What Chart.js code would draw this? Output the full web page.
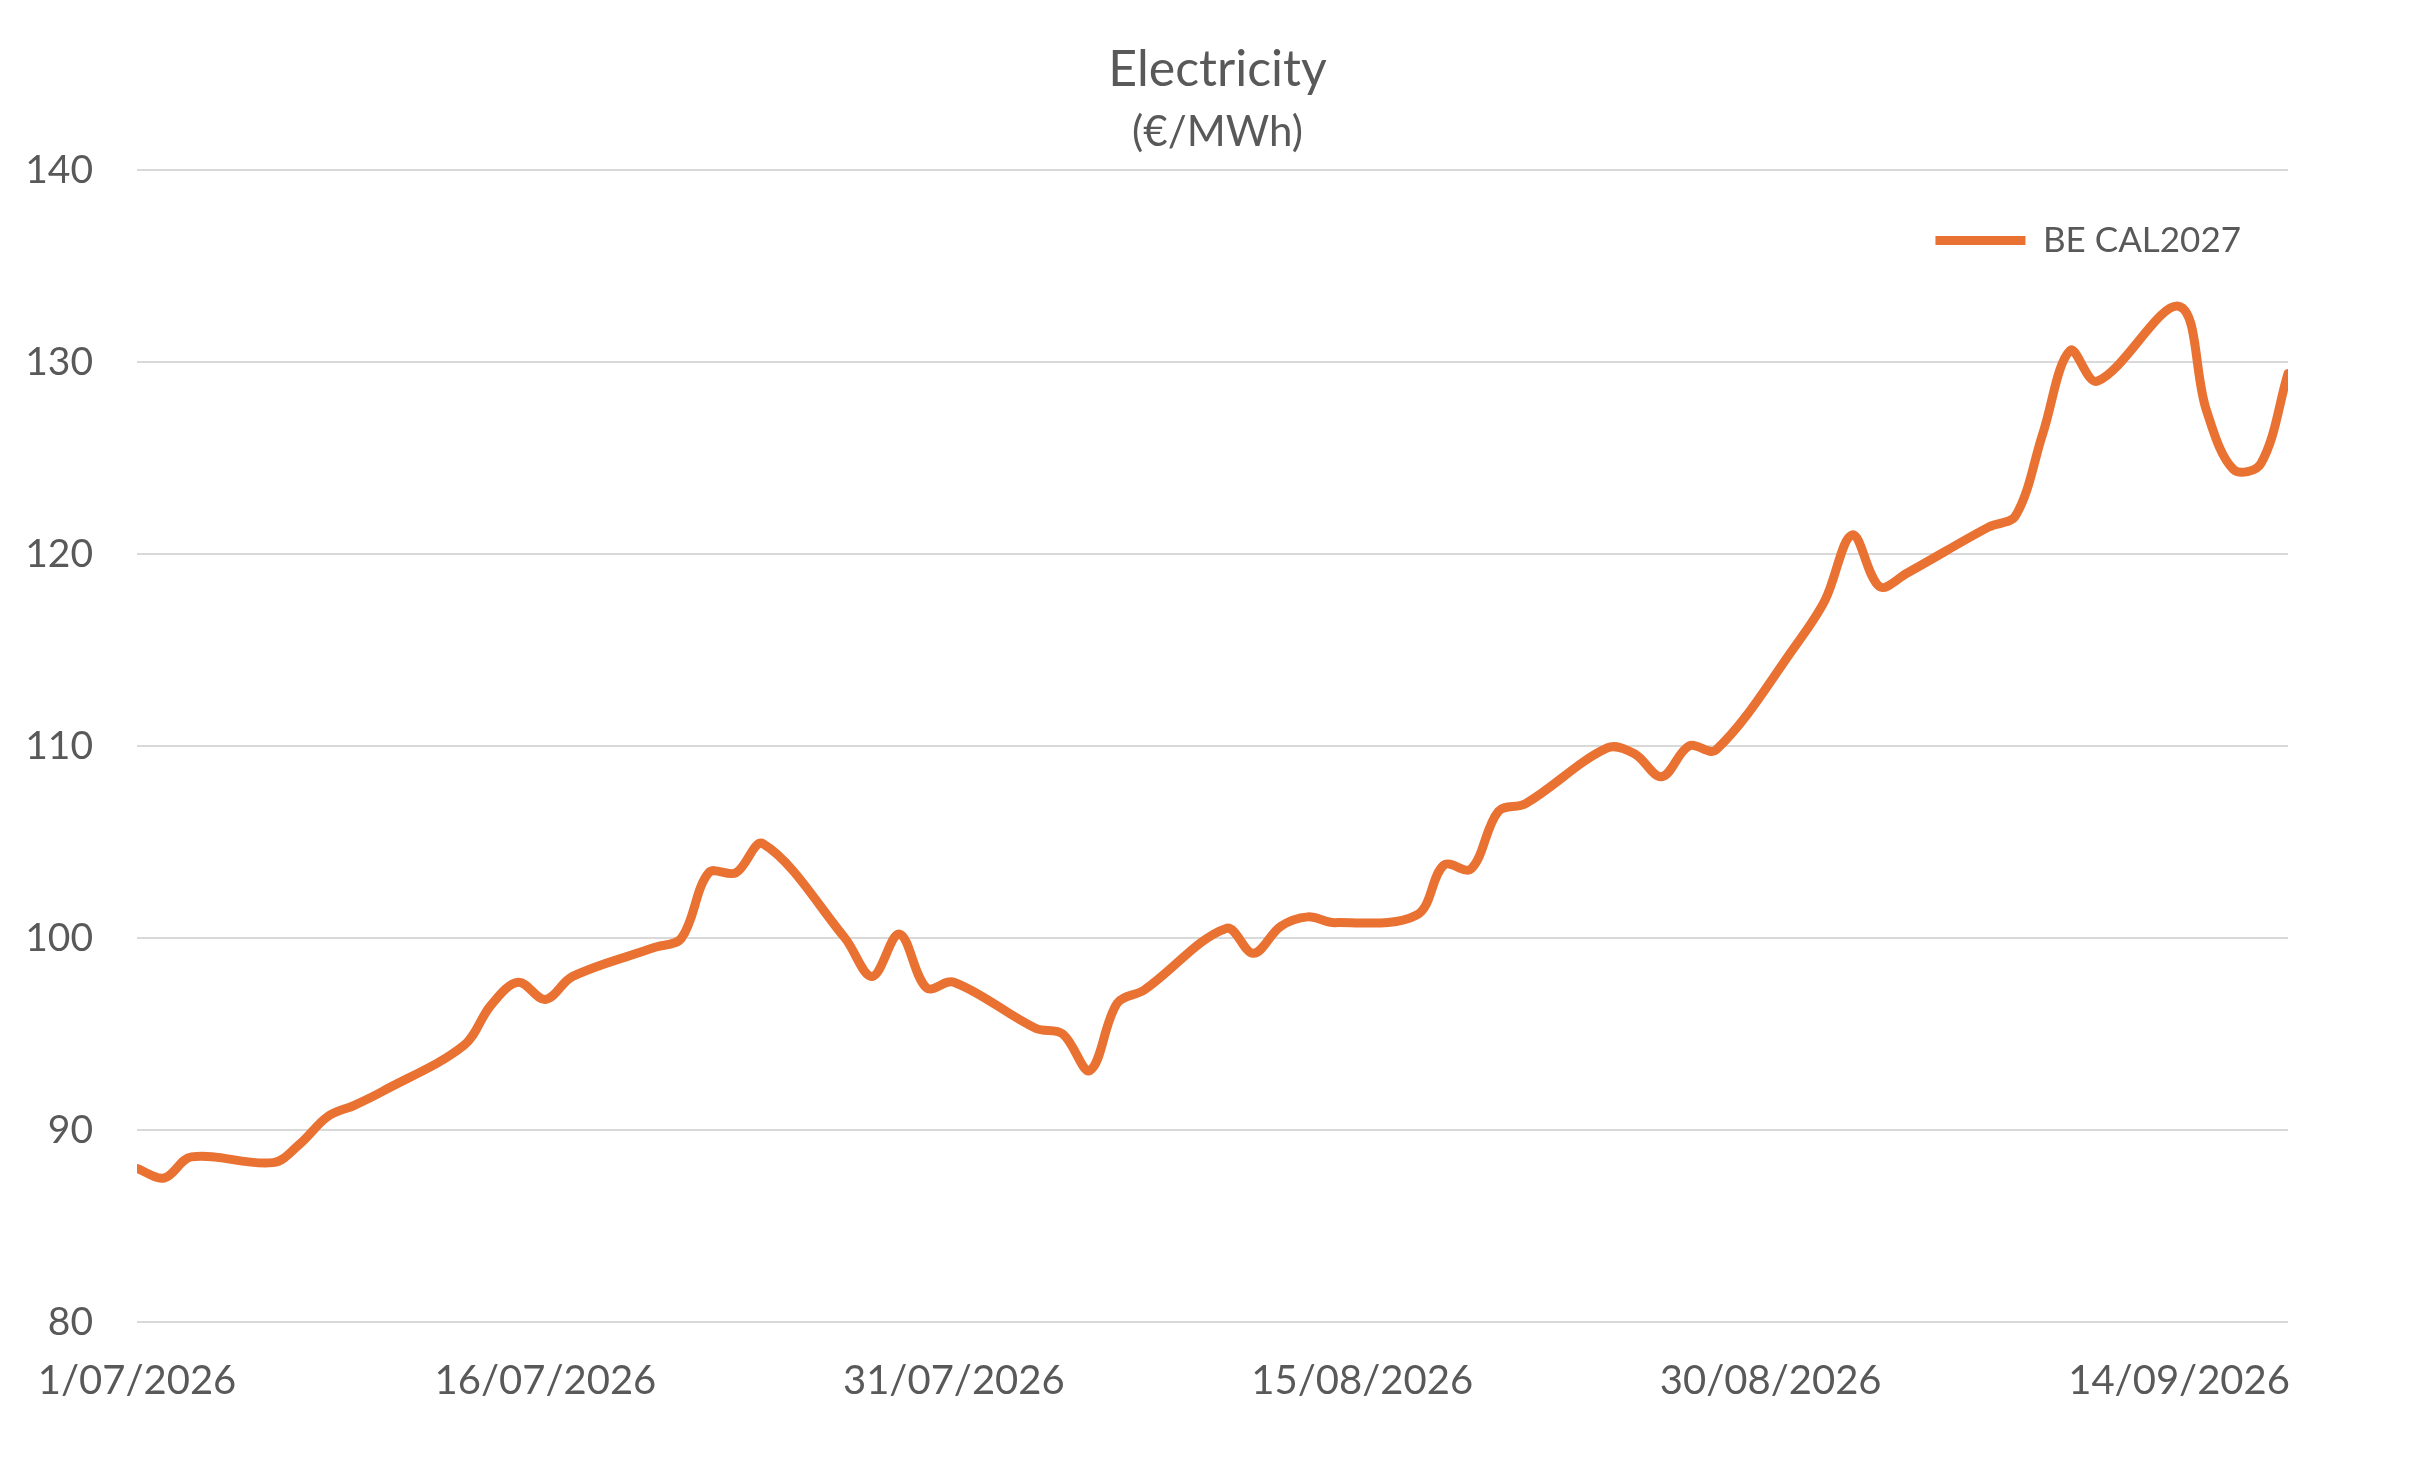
<!DOCTYPE html>
<html>
<head>
<meta charset="utf-8">
<script src="https://cdn.jsdelivr.net/npm/chart.js@4.4.1/dist/chart.umd.min.js"></script>
<style>
  html, body { margin: 0; padding: 0; background: #ffffff; }
  canvas { display: block; }
</style>
</head>
<body>
<canvas id="c" width="2435" height="1465" style="width:2435px;height:1465px"></canvas>
<script>
// ---- data ----
const chartTitle = 'Electricity';
const chartSubtitle = '(€/MWh)';
const seriesName = 'BE CAL2027';

const dates = [
  '2026-07-01','2026-07-02','2026-07-03',
  '2026-07-06','2026-07-07','2026-07-08','2026-07-09','2026-07-10',
  '2026-07-13','2026-07-14','2026-07-15','2026-07-16','2026-07-17',
  '2026-07-20','2026-07-21','2026-07-22','2026-07-23','2026-07-24',
  '2026-07-27','2026-07-28','2026-07-29','2026-07-30','2026-07-31',
  '2026-08-03','2026-08-04','2026-08-05','2026-08-06','2026-08-07',
  '2026-08-10','2026-08-11','2026-08-12','2026-08-13','2026-08-14',
  '2026-08-17','2026-08-18','2026-08-19','2026-08-20','2026-08-21',
  '2026-08-24','2026-08-25','2026-08-26','2026-08-27','2026-08-28',
  '2026-08-31','2026-09-01','2026-09-02','2026-09-03','2026-09-04',
  '2026-09-07','2026-09-08','2026-09-09','2026-09-10','2026-09-11',
  '2026-09-14','2026-09-15','2026-09-16','2026-09-17','2026-09-18'
];

const values = [
  88.0, 87.5, 88.6,
  88.3, 89.3, 90.7, 91.3, 92.0,
  94.4, 96.5, 97.7, 96.8, 98.0,
  99.5, 100.0, 103.4, 103.4, 104.9,
  100.0, 98.0, 100.2, 97.4, 97.7,
  95.3, 95.0, 93.1, 96.6, 97.3,
  100.5, 99.2, 100.6, 101.1, 100.8,
  101.2, 103.8, 103.6, 106.6, 107.0,
  109.9, 109.6, 108.4, 110.0, 109.8,
  115.4, 117.6, 121.0, 118.3, 119.0,
  121.4, 122.0, 126.3, 130.6, 129.0,
  132.9, 127.5, 124.4, 124.7, 129.4
];

const axisStart = '2026-07-01';
const axisEnd = '2026-09-18';
const tickDates = ['2026-07-01','2026-07-16','2026-07-31','2026-08-15','2026-08-30','2026-09-14'];
const tickLabels = ['1/07/2026','16/07/2026','31/07/2026','15/08/2026','30/08/2026','14/09/2026'];
const yMin = 80, yMax = 140, yStep = 10;

// ---- helpers ----
function dayIndex(s) {
  const [y, m, d] = s.split('-').map(Number);
  const [y0, m0, d0] = axisStart.split('-').map(Number);
  return Math.round((Date.UTC(y, m - 1, d) - Date.UTC(y0, m0 - 1, d0)) / 86400000);
}
const tickIdx = tickDates.map(dayIndex);
const labelFor = {};
tickIdx.forEach((v, i) => { labelFor[v] = tickLabels[i]; });

const TEXT = '#595959';
const ORANGE = '#E97132';
const FONT = 'Lato';

// Places the legend inside the plot area and centres the titles on the whole canvas
const layoutTweaks = {
  id: 'layoutTweaks',
  afterLayout(chart) {
    const lg = chart.legend;
    chart.boxes.forEach(b => {
      if (b !== lg && b.position === 'top' && b.options && b.options.text !== undefined) {
        b.left = 0;
        b.right = chart.width;
        b.width = chart.width;
      }
    });
    if (lg) {
      lg.top = chart.chartArea.top + 6;
      lg.height = 200;
      lg.bottom = lg.top + lg.height;
    }
  }
};

function draw() {
  new Chart(document.getElementById('c'), {
    type: 'line',
    data: {
      datasets: [{
        label: seriesName,
        data: dates.map((d, i) => ({ x: dayIndex(d), y: values[i] })),
        borderColor: ORANGE,
        backgroundColor: ORANGE,
        borderWidth: 9,
        borderCapStyle: 'round',
        borderJoinStyle: 'round',
        pointRadius: 0,
        pointHoverRadius: 0,
        pointStyle: 'line',
        tension: 0.35,
        fill: false
      }]
    },
    options: {
      responsive: false,
      animation: false,
      devicePixelRatio: 1,
      events: [],
      layout: { padding: { left: 25, right: 147, top: 0, bottom: 43 } },
      plugins: {
        title: {
          display: true,
          text: chartTitle,
          color: TEXT,
          font: { family: FONT, size: 50, weight: 'normal', lineHeight: 1.2 },
          padding: { top: 40, bottom: 0 }
        },
        subtitle: {
          display: true,
          text: chartSubtitle,
          color: TEXT,
          font: { family: FONT, size: 42, weight: 'normal', lineHeight: 1.2 },
          padding: { top: 7, bottom: 11.6 }
        },
        legend: {
          display: true,
          position: 'top',
          align: 'end',
          maxHeight: 1,
          labels: {
            usePointStyle: true,
            pointStyle: 'line',
            pointStyleWidth: 90,
            boxHeight: 35,
            padding: 47,
            color: TEXT,
            font: { family: FONT, size: 35, weight: 'normal' }
          }
        },
        tooltip: { enabled: false }
      },
      scales: {
        x: {
          type: 'linear',
          min: dayIndex(axisStart),
          max: dayIndex(axisEnd),
          grid: { display: false, drawTicks: false },
          border: { display: false },
          afterBuildTicks: (scale) => { scale.ticks = tickIdx.map(v => ({ value: v })); },
          afterFit: (scale) => { scale.height = 100; },
          ticks: {
            autoSkip: false,
            maxRotation: 0,
            minRotation: 0,
            padding: 35,
            color: TEXT,
            font: { family: FONT, size: 40 },
            callback: (v) => labelFor[v] ?? ''
          }
        },
        y: {
          type: 'linear',
          min: yMin,
          max: yMax,
          grid: { color: '#d9d9d9', lineWidth: 2, drawTicks: false },
          border: { display: false },
          afterFit: (scale) => { scale.width = 112; },
          ticks: {
            stepSize: yStep,
            padding: 44,
            color: TEXT,
            font: { family: FONT, size: 39 }
          }
        }
      }
    },
    plugins: [layoutTweaks]
  });
}

if (document.fonts && document.fonts.load) {
  Promise.all([document.fonts.load('39px Lato'), document.fonts.load('50px Lato')])
    .then(draw, draw);
} else {
  draw();
}
</script>
</body>
</html>
